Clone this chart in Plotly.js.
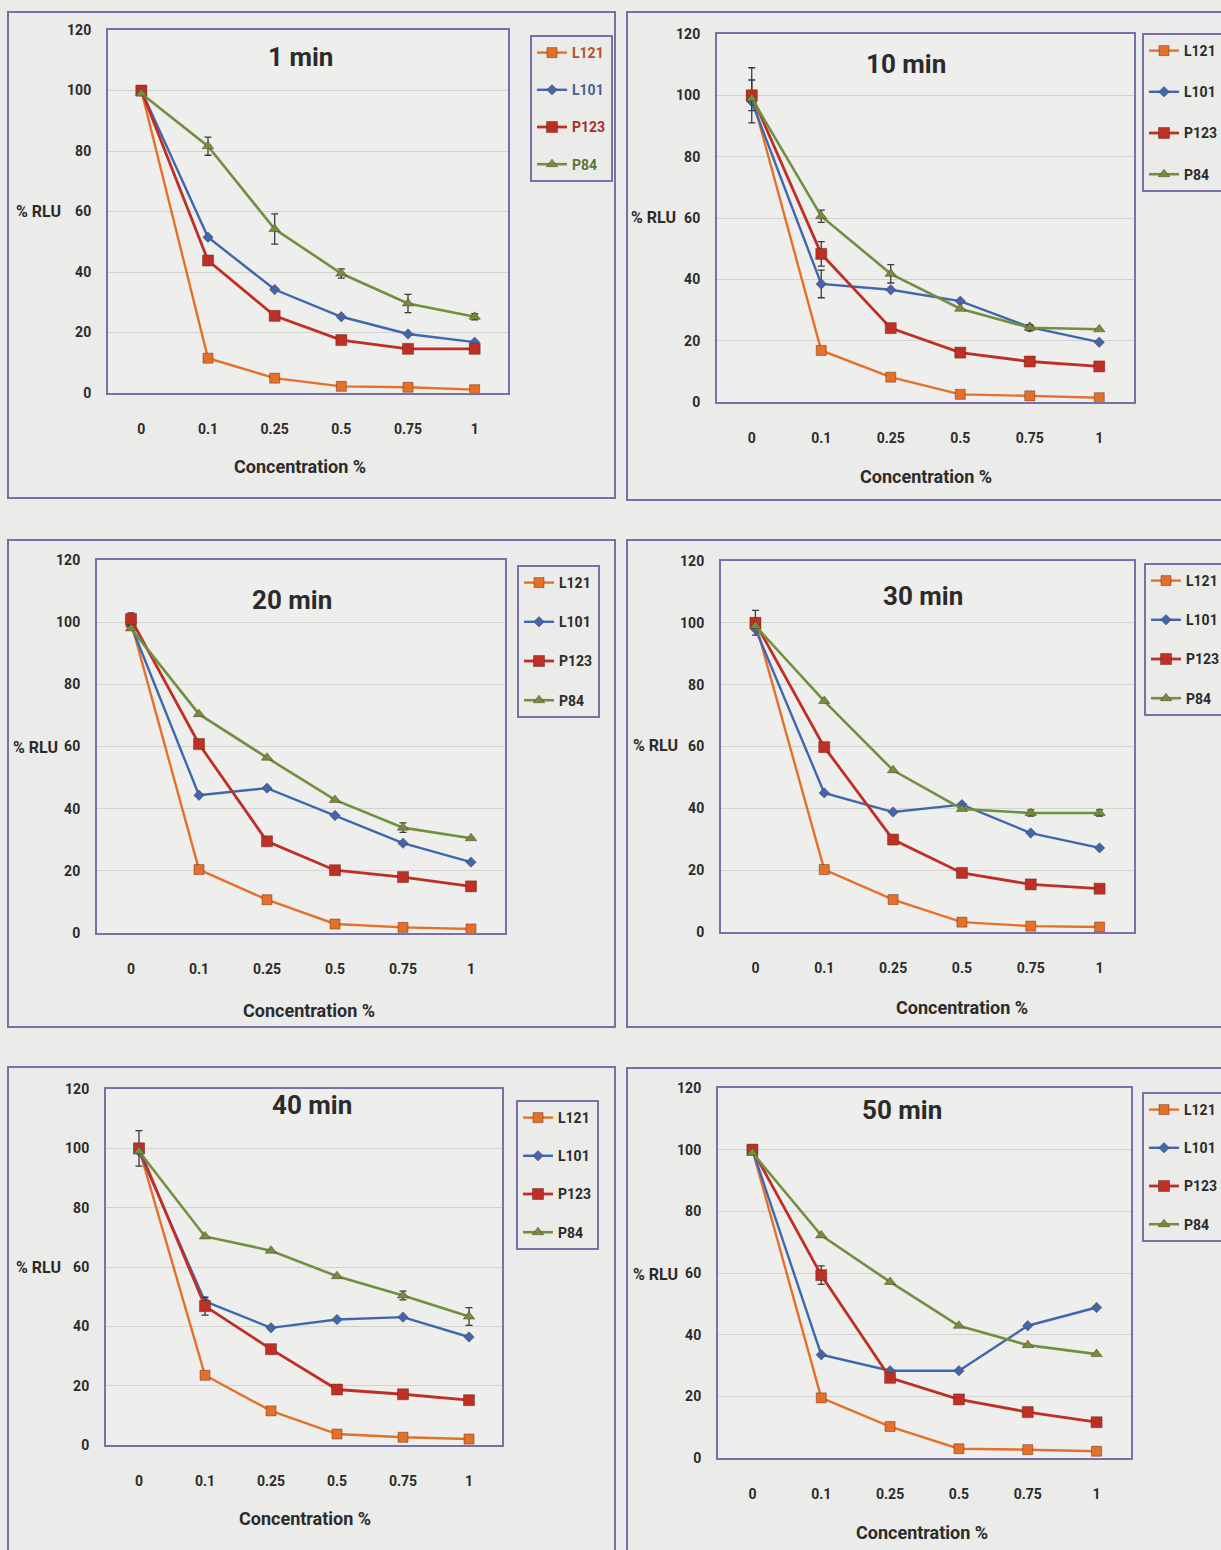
<!DOCTYPE html>
<html>
<head>
<meta charset="utf-8">
<script src="https://cdn.plot.ly/plotly-3.0.1.min.js"></script>
<style>
  html, body { margin: 0; padding: 0; background: #ebebe9; }
  #chart { width: 1221px; height: 1550px; }
</style>
</head>
<body>
<div id="chart"></div>
<script>
// Pluronic concentrations (x categories) and the six time points
const concentrations = ['0', '0.1', '0.25', '0.5', '0.75', '1'];
const timeLabels = ['1 min', '10 min', '20 min', '30 min', '40 min', '50 min'];
const seriesNames = ['L121', 'L101', 'P123', 'P84'];

// % RLU relative to control, one row per time point
const L121 = [
  [100, 11.5, 4.9, 2.2, 1.9, 1.1],
  [100, 16.8, 8.1, 2.5, 2.0, 1.4],
  [100, 20.4, 10.7, 2.9, 1.8, 1.3],
  [100, 20.2, 10.5, 3.2, 1.9, 1.6],
  [100, 23.5, 11.5, 3.7, 2.6, 2.0],
  [100, 19.5, 10.2, 3.0, 2.7, 2.2]
];
const L101 = [
  [100, 51.5, 34.2, 25.2, 19.5, 16.8],
  [98, 38.5, 36.6, 32.9, 24.4, 19.5],
  [99, 44.3, 46.6, 37.8, 28.9, 22.8],
  [98, 45.0, 38.8, 41.2, 32.0, 27.2],
  [99, 48.4, 39.5, 42.3, 43.1, 36.4],
  [100, 33.5, 28.3, 28.3, 42.9, 48.8]
];
const P123 = [
  [100, 43.8, 25.5, 17.5, 14.6, 14.6],
  [100, 48.3, 24.1, 16.1, 13.2, 11.6],
  [101, 60.8, 29.5, 20.2, 18.0, 15.0],
  [100, 59.8, 29.9, 19.1, 15.4, 14.0],
  [100, 46.8, 32.3, 18.7, 17.1, 15.1],
  [100, 59.3, 26.0, 19.0, 14.9, 11.6]
];
const P84 = [
  [99, 81.6, 54.2, 39.5, 29.6, 25.2],
  [99, 60.6, 41.8, 30.4, 24.2, 23.7],
  [98, 70.4, 56.4, 42.8, 33.9, 30.5],
  [99, 74.7, 52.3, 39.8, 38.5, 38.5],
  [99, 70.3, 65.5, 56.9, 50.4, 43.3],
  [99, 72.2, 57.1, 42.9, 36.6, 33.7]
];

// Standard errors (null = no bar shown)
const errL121 = [
  [null, null, null, null, null, null],
  [9, null, null, null, null, null],
  [null, null, null, null, null, null],
  [4, null, null, null, null, null],
  [6, null, null, null, null, null],
  [null, null, null, null, null, null]
];
const errL101 = [
  [null, null, null, null, null, null],
  [null, 4.5, null, null, null, null],
  [null, null, null, null, null, null],
  [null, null, null, null, null, null],
  [null, null, null, null, null, null],
  [null, null, null, null, null, null]
];
const errP123 = [
  [null, 1.5, null, null, null, null],
  [5, 4, null, null, null, null],
  [2, null, null, null, null, null],
  [null, null, null, null, null, null],
  [null, 3, null, null, null, null],
  [null, 3, null, null, null, null]
];
const errP84 = [
  [null, 3, 5, 1.5, 3, 1],
  [null, 2, 3, null, 1, null],
  [null, null, null, null, 1.5, null],
  [null, null, null, null, 1, 1],
  [null, null, null, null, 1.5, 3],
  [null, null, null, null, null, null]
];

const W = 1221, H = 1550;
const FONT = '"Liberation Sans Narrow", "Roboto", "Open Sans", sans-serif';
const PURPLE = '#7a70a8';
const TEXT = '#2b2b2b';
const PAGE = '#ebebe9';

const styles = {
  L121: { color: '#e5702a', symbol: 'square', size: 10, width: 2.4, text: '#b4502a' },
  L101: { color: '#3f67b0', symbol: 'diamond', size: 8, width: 2.4, text: '#4a5f8f' },
  P123: { color: '#bf2f25', symbol: 'square', size: 11, width: 2.8, text: '#a8302a' },
  P84:  { color: '#71903f', symbol: 'triangle-up', size: 10, width: 2.6, text: '#5c7436' }
};
const allValues = { L121, L101, P123, P84 };
const allErrors = { L121: errL121, L101: errL101, P123: errP123, P84: errP84 };

// Panel geometry in page pixels: plot box, outer frame, legend, labels
const panels = [
  { plot: [108, 508, 30, 393],  frame: [8, 615, 12, 498],    leg: [530, 35, 36],  title: [300, 57],  ylab: [38, 212],  xlab: [300, 466] },
  { plot: [717, 1134, 34, 402], frame: [627, 1240, 12, 500], leg: [1142, 33, 40], title: [906, 64],  ylab: [653, 218], xlab: [926, 476] },
  { plot: [97, 505, 560, 933],  frame: [8, 615, 540, 1027],  leg: [517, 565, 38], title: [292, 600], ylab: [35, 747],  xlab: [309, 1010] },
  { plot: [721, 1134, 561, 932], frame: [627, 1240, 540, 1027], leg: [1144, 563, 38], title: [923, 596], ylab: [655, 746], xlab: [962, 1007] },
  { plot: [106, 502, 1089, 1445], frame: [8, 615, 1067, 1570], leg: [516, 1100, 37], title: [312, 1105], ylab: [38, 1267], xlab: [305, 1518] },
  { plot: [718, 1131, 1088, 1458], frame: [627, 1240, 1068, 1570], leg: [1142, 1092, 37], title: [902, 1110], ylab: [655, 1274], xlab: [922, 1532] }
];

const px = x => x / W;
const py = y => 1 - y / H;

const traces = [];
const layout = {
  width: W, height: H,
  margin: { l: 0, r: 0, t: 0, b: 0, autoexpand: false },
  paper_bgcolor: PAGE,
  plot_bgcolor: '#eeeeec',
  font: { family: FONT, color: TEXT },
  showlegend: true,
  shapes: [],
  annotations: []
};

panels.forEach((p, i) => {
  const n = i + 1;
  const xa = n === 1 ? 'x' : 'x' + n;
  const ya = n === 1 ? 'y' : 'y' + n;
  const legName = n === 1 ? 'legend' : 'legend' + n;

  seriesNames.forEach(name => {
    const s = styles[name];
    const err = allErrors[name][i];
    const hasErr = err.some(v => v !== null);
    // the first panel's legend labels are tinted with their series colour
    const label = n === 1 ? '<span style="color:' + s.text + '">' + name + '</span>' : name;
    traces.push({
      type: 'scatter',
      mode: 'lines+markers',
      name: label,
      x: concentrations,
      y: allValues[name][i],
      xaxis: xa, yaxis: ya,
      legend: legName,
      legendgroup: name + n,
      line: { color: s.color, width: s.width },
      marker: { symbol: s.symbol, size: s.size, color: s.color,
                line: { color: 'rgba(90,40,20,0.45)', width: 1 } },
      error_y: hasErr ? { type: 'data', array: err, visible: true,
                          color: '#3a3a3a', thickness: 1.3, width: 3.5 } : { visible: false },
      cliponaxis: false
    });
  });

  const [L, R, T, B] = p.plot;
  layout['xaxis' + (n === 1 ? '' : n)] = {
    domain: [px(L), px(R)], anchor: ya,
    type: 'category', range: [-0.5, 5.5],
    showgrid: false, zeroline: false,
    showline: true, mirror: true, linecolor: PURPLE, linewidth: 2,
    ticks: '', ticklabelstandoff: 22,
    tickfont: { family: FONT, size: 14, color: TEXT, weight: 'bold' },
    fixedrange: true
  };
  layout['yaxis' + (n === 1 ? '' : n)] = {
    domain: [py(B), py(T)], anchor: xa,
    range: [0, 120], dtick: 20,
    showgrid: true, gridcolor: '#d2d2d0', gridwidth: 1,
    zeroline: false,
    showline: true, mirror: true, linecolor: PURPLE, linewidth: 2,
    ticks: '', ticklabelstandoff: 12,
    tickfont: { family: FONT, size: 14, color: TEXT, weight: 'bold' },
    fixedrange: true
  };

  const [lx, ly, gap] = p.leg;
  layout[legName] = {
    x: px(lx), y: py(ly), xanchor: 'left', yanchor: 'top',
    xref: 'paper', yref: 'paper',
    bgcolor: PAGE, bordercolor: PURPLE, borderwidth: 2,
    font: { family: FONT, size: 14, color: TEXT, weight: 'bold' },
    traceorder: 'grouped', tracegroupgap: gap - 20,
    itemwidth: 30
  };

  const [fx0, fx1, fy0, fy1] = p.frame;
  layout.shapes.push({
    type: 'rect', xref: 'paper', yref: 'paper',
    x0: px(fx0), x1: px(fx1), y0: py(fy1), y1: py(fy0),
    line: { color: PURPLE, width: 2 }, fillcolor: 'rgba(0,0,0,0)', layer: 'below'
  });

  layout.annotations.push({
    xref: 'paper', yref: 'paper', x: px(p.title[0]), y: py(p.title[1]),
    text: timeLabels[i], showarrow: false, xanchor: 'center', yanchor: 'middle',
    font: { family: FONT, size: 26, color: TEXT, weight: 'bold' }
  });
  layout.annotations.push({
    xref: 'paper', yref: 'paper', x: px(p.ylab[0]), y: py(p.ylab[1]),
    text: '% RLU', showarrow: false, xanchor: 'center', yanchor: 'middle',
    font: { family: FONT, size: 16, color: TEXT, weight: 'bold' }
  });
  layout.annotations.push({
    xref: 'paper', yref: 'paper', x: px(p.xlab[0]), y: py(p.xlab[1]),
    text: 'Concentration %', showarrow: false, xanchor: 'center', yanchor: 'middle',
    font: { family: FONT, size: 18, color: TEXT, weight: 'bold' }
  });
});

Plotly.newPlot('chart', traces, layout, { staticPlot: true, displayModeBar: false });
</script>
</body>
</html>
